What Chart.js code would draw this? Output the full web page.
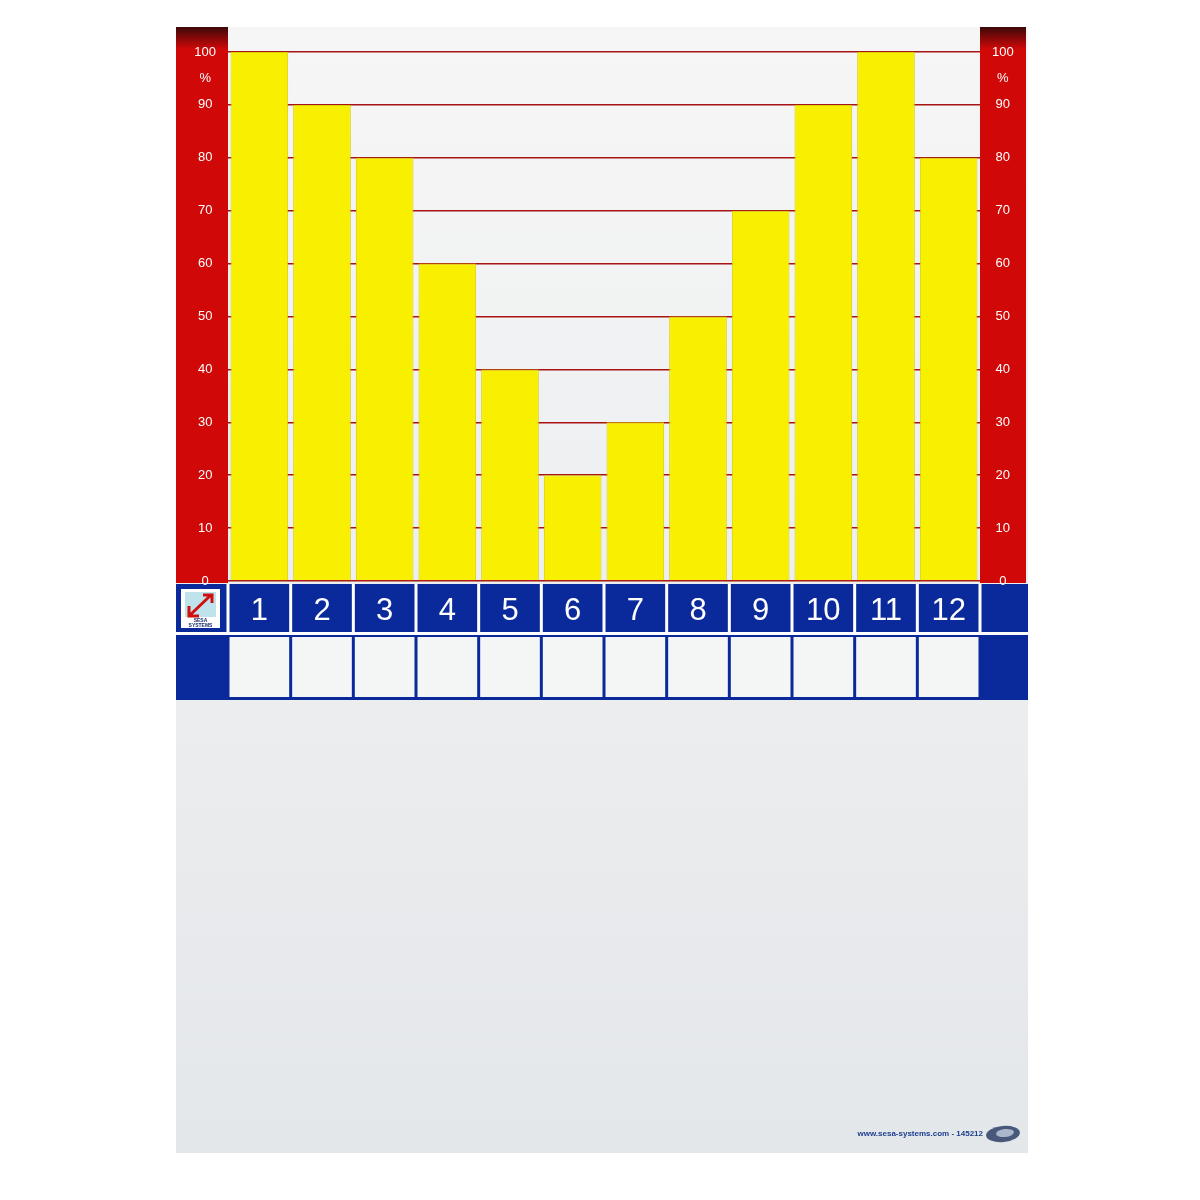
<!DOCTYPE html>
<html>
<head>
<meta charset="utf-8">
<script src="https://cdn.jsdelivr.net/npm/chart.js@4/dist/chart.umd.min.js"></script>
<style>
  html, body { margin: 0; padding: 0; background: #fff; }
  canvas { display: block; }
</style>
</head>
<body>
<canvas id="board" width="1200" height="1200"></canvas>
<script>
// Data for the chart
const columns = ["1", "2", "3", "4", "5", "6", "7", "8", "9", "10", "11", "12"];
const percentages = [100, 90, 80, 60, 40, 20, 30, 50, 70, 90, 100, 80];
const percentTick = 95; // where the "%" sign sits on the side scales

const RED = "#d00808";
const GRID_RED = "#a81414";
const BLUE = "#0a2a9c";
const YELLOW = "#f8f000";

// adds the "%" label between 90 and 100
function addPercentTick(axis) {
  axis.ticks.push({ value: percentTick });
}
function tickLabel(value) {
  return value === percentTick ? "%" : value;
}

// Board, red side strips and blue label band
const boardPlugin = {
  id: "boardPlugin",
  beforeDraw(chart) {
    const { ctx, chartArea, scales } = chart;
    const x = scales.x, y = scales.y, y2 = scales.y2;
    const left = y.left, right = y2.right;
    const top = chartArea.top - 25, bottom = x.bottom + 453;

    // board
    const g = ctx.createLinearGradient(0, top, 0, bottom);
    g.addColorStop(0, "#f6f6f6");
    g.addColorStop(1, "#e4e7ea");
    ctx.fillStyle = g;
    ctx.fillRect(left, top, right - left, bottom - top);

    // red strips
    const strips = [[y.left, y.right], [y2.left, y2.right - 2]];
    strips.forEach(([a, b]) => {
      const rg = ctx.createLinearGradient(0, top, 0, top + 22);
      rg.addColorStop(0, "#3c0808");
      rg.addColorStop(1, RED);
      ctx.fillStyle = rg;
      ctx.fillRect(a, top, b - a, y.bottom + 2 - top);
    });

    // blue band
    const bandTop = x.top + 3, rowSplit = x.top + 52, bandBottom = x.bottom;
    ctx.fillStyle = BLUE;
    ctx.fillRect(left, bandTop, right - left, bandBottom - bandTop);
    const w = x.width / columns.length;
    ctx.fillStyle = "#ffffff";
    // white separators on the number row
    for (let i = 0; i <= columns.length; i++) {
      const bx = x.left + i * w;
      ctx.fillRect(bx - 1.5, bandTop, 3, rowSplit - bandTop);
    }
    ctx.fillRect(left, rowSplit - 1, right - left, 3);
    // white writing cells
    for (let i = 0; i < columns.length; i++) {
      const bx = x.left + i * w;
      ctx.fillStyle = "#f4f5f5";
      ctx.fillRect(bx + 1.5, rowSplit + 4, w - 3, bandBottom - rowSplit - 7);
    }

    // SESA logo in the left cell
    const lx = left + 5, ly = bandTop + 5, ls = x.left - left - 13;
    ctx.fillStyle = "#ffffff";
    ctx.fillRect(lx, ly, ls, ls);
    ctx.fillStyle = "#bfe3ea";
    ctx.fillRect(lx + 4, ly + 3, ls - 8, ls - 14);
    ctx.strokeStyle = "#d01010";
    ctx.lineWidth = 3;
    ctx.beginPath();
    ctx.moveTo(lx + 8, ly + ls - 12);
    ctx.lineTo(lx + ls - 9, ly + 6);
    ctx.moveTo(lx + ls - 17, ly + 6);
    ctx.lineTo(lx + ls - 8, ly + 6);
    ctx.lineTo(lx + ls - 8, ly + 14);
    ctx.moveTo(lx + 8, ly + ls - 22);
    ctx.lineTo(lx + 8, ly + ls - 12);
    ctx.lineTo(lx + 18, ly + ls - 12);
    ctx.stroke();
    ctx.fillStyle = "#1a2a6a";
    ctx.font = "bold 5px 'Liberation Sans'";
    ctx.textAlign = "center";
    ctx.fillText("SESA", lx + ls / 2, ly + ls - 6);
    ctx.fillText("SYSTEMS", lx + ls / 2, ly + ls - 1);
  },
  afterDraw(chart) {
    const { ctx, scales } = chart;
    const x = scales.x, y2 = scales.y2;
    const footY = x.bottom + 434;
    ctx.fillStyle = "#1c3d8f";
    ctx.font = "bold 8px 'Liberation Sans'";
    ctx.textAlign = "right";
    ctx.textBaseline = "middle";
    ctx.fillText("www.sesa-systems.com - 145212", y2.left + 3, footY);
    ctx.fillStyle = "#47587a";
    ctx.beginPath();
    ctx.ellipse(y2.left + 23, footY, 17, 8, -0.1, 0, Math.PI * 2);
    ctx.fill();
    ctx.fillStyle = "#aab6cc";
    ctx.beginPath();
    ctx.ellipse(y2.left + 25, footY - 1, 9, 4, -0.1, 0, Math.PI * 2);
    ctx.fill();
  },
};

const sideTicks = {
  color: "#ffffff",
  font: { family: "'Liberation Sans', Arial, sans-serif", size: 13 },
  crossAlign: "center",
  padding: 12,
  callback: tickLabel,
};

const chart = new Chart(document.getElementById("board"), {
  type: "bar",
  data: {
    labels: columns,
    datasets: [
      {
        label: "%",
        data: percentages,
        backgroundColor: YELLOW,
        borderColor: "#d9d000",
        borderWidth: 1,
        barPercentage: 0.92,
        categoryPercentage: 1,
      },
    ],
  },
  options: {
    responsive: false,
    animation: false,
    devicePixelRatio: 1,
    layout: { padding: { left: 176, right: 172, top: 52, bottom: 500 } },
    plugins: {
      legend: { display: false },
      tooltip: { enabled: false },
    },
    scales: {
      x: {
        grid: { display: false },
        border: { display: false },
        ticks: {
          color: "#ffffff",
          font: { family: "'Liberation Sans', Arial, sans-serif", size: 31 },
          padding: 4,
          maxRotation: 0,
        },
        afterFit(axis) { axis.height = 119; },
      },
      y: {
        position: "left",
        min: 0,
        max: 100,
        ticks: Object.assign({ stepSize: 10 }, sideTicks),
        afterBuildTicks: addPercentTick,
        grid: {
          drawTicks: false,
          lineWidth: 1.5,
          color: (c) => (c.tick && c.tick.value === percentTick ? "rgba(0,0,0,0)" : GRID_RED),
        },
        border: { display: false },
        afterFit(axis) { axis.width = 52; },
      },
      y2: {
        position: "right",
        min: 0,
        max: 100,
        ticks: Object.assign({ stepSize: 10 }, sideTicks),
        afterBuildTicks: addPercentTick,
        grid: { display: false, drawTicks: false },
        border: { display: false },
        afterFit(axis) { axis.width = 48; },
      },
    },
  },
  plugins: [boardPlugin],
});
</script>
</body>
</html>
